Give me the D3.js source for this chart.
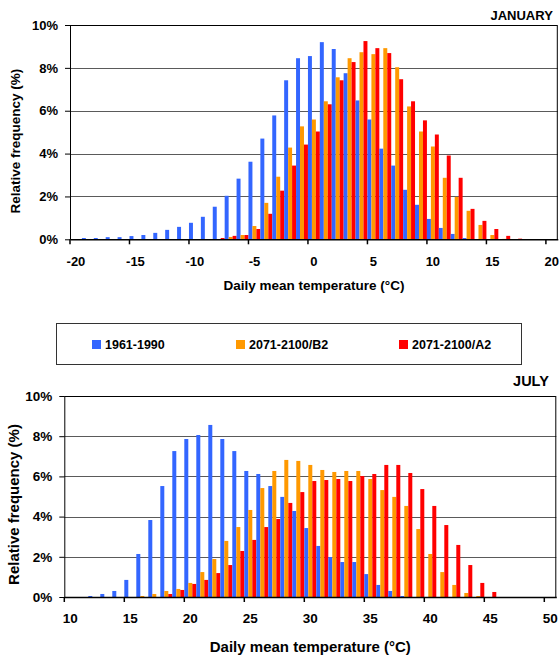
<!DOCTYPE html>
<html>
<head>
<meta charset="utf-8">
<script src="https://cdn.jsdelivr.net/npm/d3@7"></script>
<style>
body{margin:0;background:#fff;}
text{font-family:'Liberation Sans',Arial,sans-serif;font-weight:bold;fill:#000;}
</style>
</head>
<body>
<div class="plot"></div>
<script>
var W = 560, H = 656;

// series names + colours
var seriesNames = ['1961-1990','2071-2100/B2','2071-2100/A2'];
var seriesColors = ['#3366ff','#ff9900','#ff0000'];

// January: daily mean temperature classes -20..20
var janCats = d3.range(-20,21);
var janBase = [0,0.06,0.06,0.1,0.1,0.15,0.2,0.3,0.44,0.58,0.77,1.05,1.52,2.03,2.83,3.62,4.7,5.78,7.42,8.45,
    8.55,9.2,8.88,7.75,6.48,5.59,4.23,3.44,2.31,1.61,0.95,0.53,0.25,0.06,0,0,0,0,0,0,0];
var janB2 = [0,0,0,0,0,0,0,0,0,0,0,0,0,0.11,0.2,0.62,1.7,2.92,4.28,5.27,
    5.59,6.44,7.56,8.45,8.73,8.64,8.92,8.03,6.2,5.03,4.33,2.87,1.98,1.33,0.67,0.2,0.02,0,0,0,0];
var janA2 = [0,0,0,0,0,0,0,0,0,0,0,0,0.06,0.16,0.2,0.48,1.19,2.27,3.44,4.42,
    5.03,6.3,7.42,8.27,9.25,8.92,8.69,7.47,6.44,5.55,4.89,3.91,2.87,1.42,0.86,0.48,0.16,0.03,0,0,0];

// July: classes 10..50
var julCats = d3.range(10,51);
var julBase = [0,0,0.05,0.15,0.3,0.85,2.14,3.83,5.52,7.26,7.86,8.06,8.56,7.86,7.26,6.27,6.12,5.52,4.98,4.28,
    3.43,2.54,1.99,1.74,1.74,1.14,0.6,0.3,0.05,0,0,0,0,0,0,0,0,0,0,0,0];
var julB2 = [0,0,0,0,0,0,0.05,0.15,0.3,0.4,0.7,1.24,1.89,2.79,3.48,4.33,5.42,6.27,6.82,6.77,
    6.57,6.32,6.22,6.27,6.27,5.87,5.32,4.98,4.53,3.38,2.14,1.24,0.6,0.2,0.05,0,0,0,0,0,0];
var julA2 = [0,0,0,0,0,0,0,0,0.15,0.35,0.65,0.85,1.19,1.59,2.29,2.84,3.48,3.88,4.68,5.22,
    5.77,5.82,5.87,5.77,6.02,6.12,6.57,6.57,6.17,5.37,4.53,3.58,2.59,1.59,0.7,0.25,0,0,0,0,0];

var yTicks = [0,2,4,6,8,10];

var svg = d3.select('.plot').append('svg')
    .attr('width',W)
    .attr('height',H);

function chart(c){
    var w = c.w, h = c.h;
    var g = svg.append('g').attr('transform','translate('+c.l+','+c.t+')');

    var x0 = d3.scaleBand().domain(c.cats).range([0,w]).padding(0);
    var x1 = d3.scaleBand().domain(seriesNames).range([0,x0.bandwidth()]).padding(0);
    var y = d3.scaleLinear().domain([0,10]).range([h,0]);

    // gridlines
    g.append('g')
        .selectAll('line')
        .data(yTicks.slice(1))
        .enter()
        .append('line')
        .attr('x1',0).attr('x2',w)
        .attr('y1',function(d){return Math.round(y(d))+0.5})
        .attr('y2',function(d){return Math.round(y(d))+0.5})
        .style('stroke','#5a5a5a')
        .style('stroke-width',1);

    // bars
    var rows = c.cats.map(function(k,i){
        return c.series.map(function(s,j){return {cat:k, name:seriesNames[j], v:s[i], col:seriesColors[j]}});
    });
    g.append('g')
        .selectAll('g')
        .data(rows)
        .enter()
        .append('g')
        .attr('transform',function(d){return 'translate('+x0(d[0].cat)+',0)'})
        .selectAll('rect')
        .data(function(d){return d})
        .enter()
        .append('rect')
        .attr('x',function(d){return x1(d.name)})
        .attr('width',x1.bandwidth())
        .attr('y',function(d){return y(d.v)})
        .attr('height',function(d){return h - y(d.v)})
        .style('fill',function(d){return d.col});

    // frame (top + right)
    g.append('path')
        .attr('d','M0,0.5H'+(w-0.5)+'V'+h)
        .style('fill','none')
        .style('stroke','#000')
        .style('stroke-width',1);

    // y axis
    var ya = g.append('g')
        .call(d3.axisLeft(y).tickValues(yTicks).tickSize(5).tickPadding(7).tickSizeOuter(0)
            .tickFormat(function(d){return d+'%'}));
    ya.selectAll('text').style('font-size',c.fs+'px').style('font-family',null);
    ya.selectAll('line,path').style('stroke','#000');

    // x axis: ticks on class boundaries, labels on class centres
    var xa = g.append('g')
        .attr('transform','translate(0,'+h+')')
        .call(d3.axisBottom(x0)
            .tickValues(c.cats.filter(function(k){return k%5==0}))
            .tickSize(5).tickPadding(c.xpad).tickSizeOuter(0));
    xa.selectAll('.tick line').attr('transform','translate('+(-x0.bandwidth()/2)+',0)');
    xa.selectAll('text').style('font-size',c.fs+'px').style('font-family',null);
    xa.selectAll('line,path').style('stroke','#000').style('stroke-width',1.5);

    // titles
    g.append('text')
        .attr('x',w-c.titleR)
        .attr('y',c.titleY)
        .attr('text-anchor','end')
        .style('font-size',c.tfs+'px')
        .text(c.title);

    g.append('text')
        .attr('x',w/2)
        .attr('y',c.xtY)
        .attr('text-anchor','middle')
        .style('font-size',c.afs+'px')
        .text('Daily mean temperature (°C)');

    g.append('text')
        .attr('transform','translate('+(c.ytX)+','+(h/2+c.ytDy)+') rotate(-90)')
        .attr('text-anchor','middle')
        .style('font-size',c.afs+'px')
        .text('Relative frequency (%)');
}

chart({l:70, t:25, w:487.8, h:214.3, cats:janCats, series:[janBase,janB2,janA2],
    title:'JANUARY', titleR:5, titleY:-5, xpad:12, xtY:265, ytX:-50, ytDy:9, fs:13, tfs:13, afs:13.5});

chart({l:64.3, t:396, w:492, h:201, cats:julCats, series:[julBase,julB2,julA2],
    title:'JULY', titleR:7.5, titleY:-10, xpad:11, xtY:256, ytX:-45, ytDy:8, fs:13.5, tfs:14.5, afs:15});

// legend
var legX = [92, 236, 399];
var leg = svg.append('g');
leg.append('rect')
    .attr('x',56.5).attr('y',323.5)
    .attr('width',465).attr('height',41)
    .style('fill','#fff')
    .style('stroke','#333')
    .style('stroke-width',1);
var li = leg.selectAll('g.li')
    .data(seriesNames)
    .enter()
    .append('g')
    .attr('class','li')
    .attr('transform',function(d,i){return 'translate('+legX[i]+',340)'});
li.append('rect')
    .attr('width',9).attr('height',9)
    .style('fill',function(d,i){return seriesColors[i]});
li.append('text')
    .attr('x',13).attr('y',9)
    .style('font-size','12.5px')
    .text(function(d){return d});
</script>
</body>
</html>
